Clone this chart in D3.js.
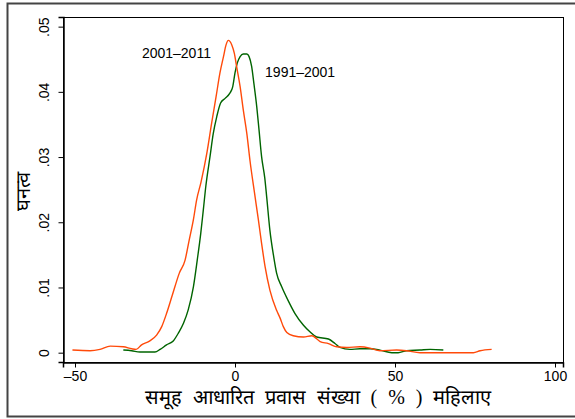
<!DOCTYPE html>
<html>
  <head>
    <meta charset="utf-8">
    <title>घनत्व</title>
    <script src="https://d3js.org/d3.v7.min.js"></script>
    <style>
      body { margin: 0; background: #fff; }
      text { font-family: "Liberation Sans", Arial, sans-serif; fill: #000; }
      .frame { fill: none; stroke: #444; stroke-width: 2; }
    </style>
  </head>
  <body>
    <div id="chart"></div>
    <script>
      "use strict"

      // 2001-2011 (x: % , y: density)
      var x2001 = [-50.8, -45.3, -42.2, -39, -34.9, -32.3, -30.9, -29.2, -26.6, -24.5, -22.9, -21.4, -19.6, -17.4, -15.6, -14.3, -13, -12, -10.6,
                   -8.8, -7.3, -5.9, -4.7, -3.6, -2.8, -2.1, -1.0, -0.2, 0.5, 1.6, 2.6, 3.7, 4.7, 6.1, 7.3, 8.3, 9.4, 10.9, 13, 14.1,
                   15.1, 16.2, 18.2, 21.4, 24, 26.6, 29.2, 31.8, 34.9, 39, 42.2, 45.3, 50.5, 53.6, 57.8, 74.5, 76.6, 80.2];
      var y2001 = [0.0004, 0.0003, 0.0005, 0.001, 0.0009, 0.0006, 0.0005, 0.0012, 0.0018, 0.0027, 0.004, 0.006, 0.0088, 0.0122, 0.0142, 0.0173, 0.0204, 0.0234, 0.0262,
                   0.0306, 0.0352, 0.0393, 0.0429, 0.0454, 0.0472, 0.0479, 0.0472, 0.0459, 0.0439, 0.0408, 0.0372, 0.0336, 0.0294, 0.0245, 0.0204, 0.0168, 0.0132, 0.0096, 0.0065, 0.0053,
                   0.004, 0.0031, 0.0026, 0.0024, 0.0026, 0.0017, 0.0014, 0.0009, 0.0008, 0.0009, 0.0007, 0.0003, 0.0004, 0.0003, 0.0, 0.0, 0.0003, 0.0005];

      // 1991-2001
      var x1991 = [-34.9, -32.3, -29.7, -25, -23.4, -21.4, -19.3, -17.7, -16.1, -14.6, -13, -11.8, -10.7, -9.9, -9.1, -7.8, -6.8, -5.7, -4.5, -3.1,
                   -1.6, -0.7, 0, 0.7, 1.6, 2.6, 3.7, 4.4, 5.2, 5.9, 6.8, 7.5, 8.3, 9.3, 9.9, 10.9, 12.1, 13, 14.6, 16.5,
                   18.75, 21.4, 23.4, 25.5, 29.2, 31.25, 32.8, 35.9, 39, 42.2, 45.3, 49, 51, 53.6, 57.8, 61, 65.1];
      var y1991 = [0.0004, 0.0003, 0.0001, 0.0001, 0.0005, 0.0012, 0.0018, 0.003, 0.0045, 0.0066, 0.0101, 0.0142, 0.0183, 0.0219, 0.0256, 0.0301, 0.0336, 0.0362, 0.0383, 0.039,
                   0.0398, 0.0408, 0.0429, 0.0444, 0.0454, 0.0458, 0.0458, 0.0454, 0.0439, 0.0413, 0.0377, 0.0342, 0.0301, 0.0268, 0.0239, 0.0188, 0.0147, 0.0122, 0.0101, 0.0081,
                   0.006, 0.0042, 0.0032, 0.0024, 0.0021, 0.0014, 0.0008, 0.0005, 0.0006, 0.0006, 0.0004, 0.0, 0.0, 0.0003, 0.0004, 0.0005, 0.0004];

      var xTicks = [-50, 0, 50, 100];
      var yTicks = [0, 0.01, 0.02, 0.03, 0.04, 0.05];
      var yTickLabels = ["0", ".01", ".02", ".03", ".04", ".05"];

      var larguraSVG = 575, alturaSVG = 419;
      var margin = {top: 17, right: 12, bottom: 57, left: 63};

      var svg = d3.select("#chart").append("svg")
        .attr("width", larguraSVG)
        .attr("height", alturaSVG);

      // moldura externa (sem lado direito)
      svg.append("path")
        .attr("class", "frame")
        .attr("d", "M576,3.5 H7.5 V416.5 H576");

      var x = d3.scaleLinear().domain([-53.75, 102.5]).range([margin.left, larguraSVG - margin.right]);
      var y = d3.scaleLinear().domain([-0.00143, 0.05148]).range([alturaSVG - margin.bottom, margin.top]);

      // caixa do grafico
      svg.append("rect")
        .attr("x", margin.left + 0.5).attr("y", margin.top + 0.5)
        .attr("width", larguraSVG - margin.left - margin.right)
        .attr("height", alturaSVG - margin.top - margin.bottom)
        .attr("fill", "none").attr("stroke", "#000").attr("stroke-width", 1);

      var xAxis = svg.append("g")
        .attr("transform", "translate(0," + (alturaSVG - margin.bottom + 0.5) + ")")
        .call(d3.axisBottom(x).tickValues(xTicks).tickSize(5).tickPadding(4)
          .tickFormat(d => d < 0 ? "\u2013" + Math.abs(d) : d));
      xAxis.select(".domain").attr("stroke-width", 1.5);
      xAxis.selectAll("text").style("font-size", "14px");

      var yAxis = svg.append("g")
        .attr("transform", "translate(" + (margin.left + 0.5) + ",0)")
        .call(d3.axisLeft(y).tickValues(yTicks).tickSize(5).tickFormat((d, i) => yTickLabels[i]));
      yAxis.select(".domain").attr("stroke-width", 1.5);
      yAxis.selectAll("text")
        .style("font-size", "14px")
        .attr("text-anchor", "middle")
        .attr("x", 0).attr("dy", 0)
        .attr("transform", "translate(-15,0) rotate(-90)");

      var line = d3.line()
        .x(d => x(d[0]))
        .y(d => y(d[1]))
        .curve(d3.curveMonotoneX);

      svg.append("path")
        .datum(d3.zip(x1991, y1991))
        .attr("d", line)
        .attr("fill", "none").attr("stroke", "#006400").attr("stroke-width", 1.4);

      svg.append("path")
        .datum(d3.zip(x2001, y2001))
        .attr("d", line)
        .attr("fill", "none").attr("stroke", "#ff4a0a").attr("stroke-width", 1.4);

      // rotulos das series
      svg.append("text")
        .attr("x", x(-29.1)).attr("y", y(0.0452))
        .style("font-size", "14px")
        .text("2001\u20132011");

      svg.append("text")
        .attr("x", x(9.4)).attr("y", y(0.0423))
        .style("font-size", "14px")
        .text("1991\u20132001");

      // titulos dos eixos
      svg.append("text")
        .attr("transform", "translate(30,191) rotate(-90)")
        .attr("text-anchor", "middle")
        .style("font-size", "20px")
        .style("font-family", "serif")
        .text("घनत्व");

      svg.append("text")
        .attr("x", 318).attr("y", 404)
        .attr("text-anchor", "middle")
        .style("font-size", "20px")
        .style("font-family", "serif")
        .style("word-spacing", "6px")
        .text("समूह आधारित प्रवास संख्या ( % ) महिलाए");
    </script>
  </body>
</html>
